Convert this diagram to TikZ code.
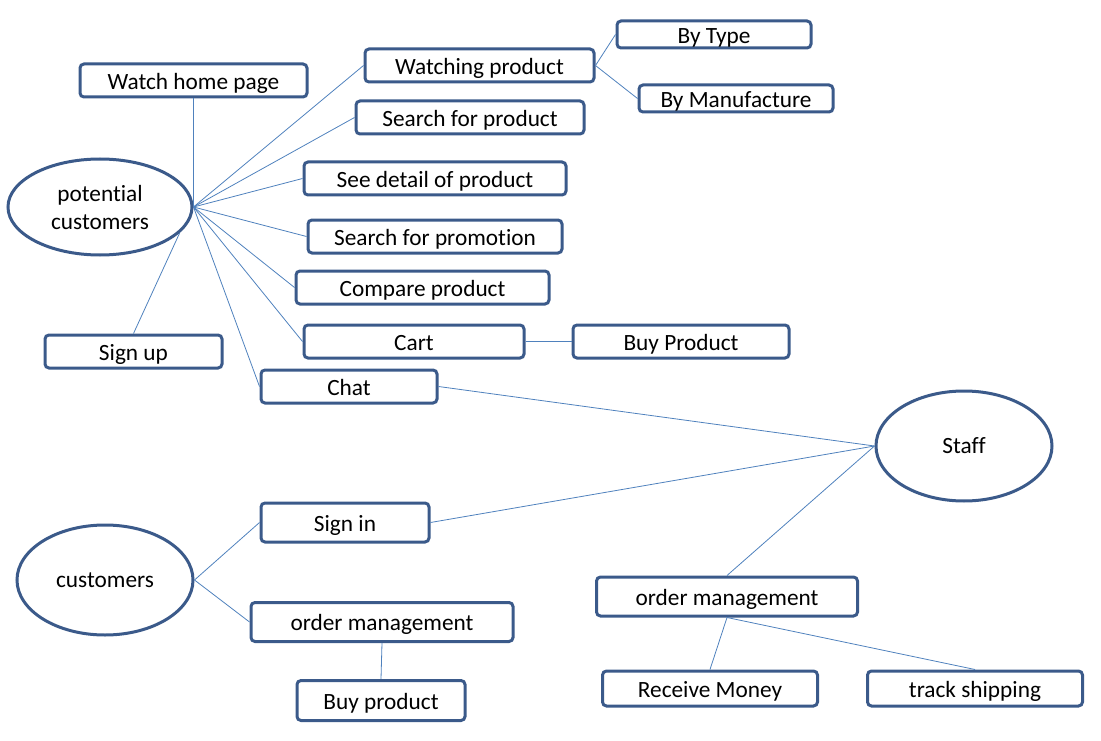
\documentclass[tikz,border=0pt]{standalone}
\usepackage{fontspec}
\setmainfont{Carlito}[Ligatures=NoCommon]
\usetikzlibrary{shapes.geometric}
\definecolor{boxblue}{HTML}{3B5A8A}
\definecolor{lineblue}{HTML}{4F81BD}

\begin{document}
\begin{tikzpicture}[x=1pt, y=-1pt,
  box/.style={rectangle, rounded corners=4pt, draw=boxblue, line width=3pt, minimum height=33pt, inner sep=0pt, text height=22pt, text depth=4.5pt, font=\fontsize{23.3}{27}\selectfont},
  actor/.style={ellipse, draw=boxblue, line width=3pt, inner sep=0pt, align=center, font=\fontsize{23.3}{28}\selectfont},
  link/.style={draw=lineblue, line width=0.8pt}]

\useasboundingbox (0,0) rectangle (1101,741);

%% CLIENTES POTENCIALES
\node[actor, minimum width=184pt, minimum height=96pt] at (100,207) (Pot) {potential\\customers};

% Acciones
\node[box, minimum width=227pt] at (193.5,80.5) (Home) {Watch home page};
\node[box, minimum width=229pt] at (479.5,65.5) (Watch) {Watching product};
\node[box, minimum width=228pt] at (470,117.5) (Search) {Search for product};
\node[box, minimum width=262pt] at (435,178.5) (Detail) {See detail of product};
\node[box, minimum width=254pt] at (435,236.5) (Promo) {Search for promotion};
\node[box, minimum width=253pt] at (422.5,287.5) (Compare) {Compare product};
\node[box, minimum width=220pt] at (414,341.5) (Cart) {Cart};
\node[box, minimum width=177pt] at (133.5,351.5) (SignUp) {Sign up};
\node[box, minimum width=176pt] at (349,386.5) (Chat) {Chat};

% Filtros
\node[box, minimum width=194pt, minimum height=27pt] at (714,34.5) (Type) {By Type};
\node[box, minimum width=194pt, minimum height=27pt] at (736,98.5) (Manu) {By Manufacture};

% Compra
\node[box, minimum width=216pt] at (681,341.5) (BuyP) {Buy Product};

% Lineas
\draw[link] (Home.south) -- (Pot.east);
\draw[link] (Pot.east) -- (Watch.west);
\draw[link] (Pot.east) -- (Search.west);
\draw[link] (Pot.east) -- (Detail.west);
\draw[link] (Pot.east) -- (Promo.west);
\draw[link] (Pot.east) -- (Compare.west);
\draw[link] (Pot.east) -- (Cart.west);
\draw[link] (Pot.east) -- (Chat.west);
\draw[link] (Pot.-18) -- (SignUp.north);
\draw[link] (Watch.east) -- (Type.west);
\draw[link] (Watch.east) -- (Manu.west);
\draw[link] (Cart.east) -- (BuyP.west);


%% PERSONAL
\node[actor, minimum width=176pt, minimum height=110pt] at (964,446) (Staff) {Staff};

\node[box, minimum width=261pt, minimum height=39pt] at (727,596.5) (OrdS) {order management};
\node[box, minimum width=215pt, minimum height=35pt] at (710,688.5) (Money) {Receive Money};
\node[box, minimum width=215pt, minimum height=35pt] at (975,688.5) (Ship) {track shipping};

%% CLIENTES
\node[actor, minimum width=176pt, minimum height=110pt] at (105,580) (Cust) {customers};

\node[box, minimum width=168pt, minimum height=39pt] at (345,522.5) (SignIn) {Sign in};
\node[box, minimum width=262pt, minimum height=39pt] at (382,622) (OrdC) {order management};
\node[box, minimum width=168pt, minimum height=40pt] at (381,700.5) (BuyC) {Buy product};

% Lineas
\draw[link] (Chat.east) -- (Staff.west);
\draw[link] (SignIn.east) -- (Staff.west);
\draw[link] (Staff.west) -- (OrdS.north);
\draw[link] (OrdS.south) -- (Money.north);
\draw[link] (OrdS.south) -- (Ship.north);
\draw[link] (Cust.east) -- (SignIn.west);
\draw[link] (Cust.east) -- (OrdC.west);
\draw[link] (OrdC.south) -- (BuyC.north);

\end{tikzpicture}
\end{document}
